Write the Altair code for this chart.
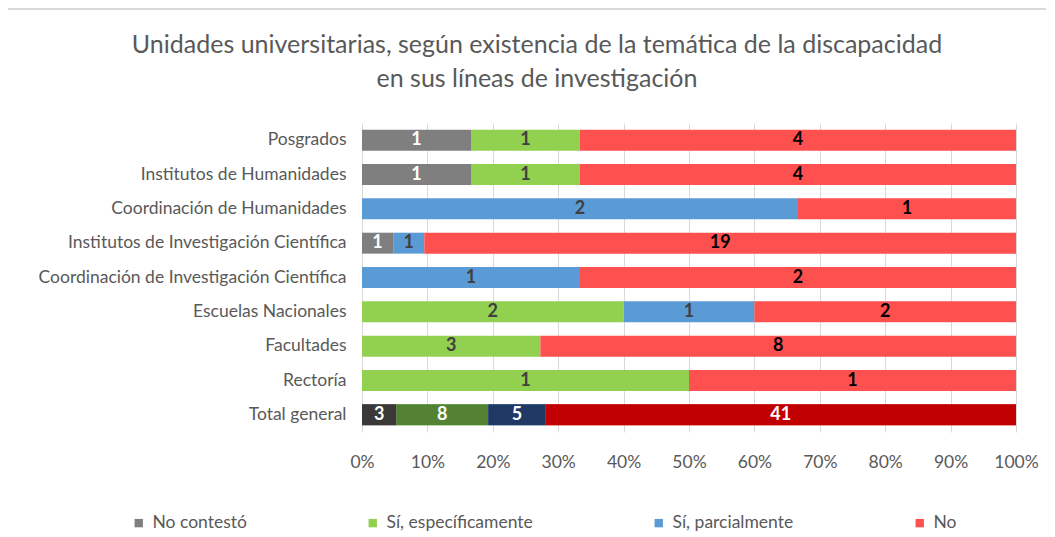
import altair as alt
import pandas as pd

categories = [
    "Posgrados",
    "Institutos de Humanidades",
    "Coordinación de Humanidades",
    "Institutos de Investigación Científica",
    "Coordinación de Investigación Científica",
    "Escuelas Nacionales",
    "Facultades",
    "Rectoría",
    "Total general",
]
series = ["No contestó", "Sí, específicamente", "Sí, parcialmente", "No"]

no_contesto = [1, 1, 0, 1, 0, 0, 0, 0, 3]
si_especificamente = [1, 1, 0, 0, 0, 2, 3, 1, 8]
si_parcialmente = [0, 0, 2, 1, 1, 1, 0, 0, 5]
no = [4, 4, 1, 19, 2, 2, 8, 1, 41]

colors = ["#7f7f7f", "#92d050", "#5b9bd5", "#ff5050"]
total_colors = ["#3b3838", "#548235", "#203864", "#c00000"]
text_colors = ["#ffffff", "#404040", "#404040", "#000000"]
total_text_colors = ["#ffffff", "#ffffff", "#ffffff", "#ffffff"]

values_by_series = [no_contesto, si_especificamente, si_parcialmente, no]
rows = []
for si, (s, vals) in enumerate(zip(series, values_by_series)):
    for ci, (c, v) in enumerate(zip(categories, vals)):
        if v == 0:
            continue
        is_total = c == "Total general"
        rows.append({
            "category": c,
            "series": s,
            "idx": si,
            "value": v,
            "fillc": total_colors[si] if is_total else colors[si],
            "tcolor": total_text_colors[si] if is_total else text_colors[si],
            "is_total": is_total,
        })
df = pd.DataFrame(rows)

FONT = "Lato"
GRAY = "#595959"
FS = 17.5

base = alt.Chart(df).transform_stack(
    stack="value",
    groupby=["category"],
    as_=["x0", "x1"],
    offset="normalize",
    sort=[alt.SortField("idx", order="ascending")],
).transform_calculate(mid="(datum.x0 + datum.x1) / 2")

y_enc = alt.Y(
    "category:N",
    sort=categories,
    scale=alt.Scale(paddingInner=0.39, paddingOuter=0.195),
    axis=alt.Axis(
        title=None, ticks=False, domain=False, grid=False,
        labelFont=FONT, labelFontSize=FS, labelColor=GRAY, labelPadding=16,
        labelLimit=400,
    ),
)
x_enc = alt.X(
    "x0:Q",
    scale=alt.Scale(domain=[0, 1], nice=False),
    axis=alt.Axis(
        title=None, format=".0%", values=[i / 10 for i in range(11)],
        ticks=False, domain=False, grid=True, gridColor="#d9d9d9",
        labelFont=FONT, labelFontSize=FS, labelColor=GRAY, labelPadding=21,
        labelFlush=False, labelOverlap=False,
    ),
)

bars = base.mark_bar().encode(
    y=y_enc,
    x=x_enc,
    x2="x1:Q",
    color=alt.Color(
        "series:N",
        scale=alt.Scale(domain=series, range=colors),
        legend=alt.Legend(
            title=None, orient="none", direction="horizontal",
            legendX=-232, legendY=391,
            symbolType="square", symbolSize=70, symbolStrokeWidth=0,
            labelFont=FONT, labelFontSize=FS, labelColor=GRAY,
            columnPadding=117, labelOffset=5,
        ),
    ),
)

total_bars = base.transform_filter("datum.is_total").mark_bar().encode(
    y=alt.Y("category:N", sort=categories),
    x="x0:Q",
    x2="x1:Q",
    fill=alt.Fill("fillc:N", scale=None),
)

labels = base.mark_text(font=FONT, fontSize=18, fontWeight="bold", baseline="middle").encode(
    y=alt.Y("category:N", sort=categories),
    x="mid:Q",
    text="value:Q",
    fill=alt.Fill("tcolor:N", scale=None),
)

frame_top = alt.Chart(pd.DataFrame({"a": [0]})).mark_rule(color="#d9d9d9", strokeWidth=2).encode(
    x=alt.value(-355), x2=alt.value(700), y=alt.value(-114)
)
frame_left = alt.Chart(pd.DataFrame({"a": [0]})).mark_rule(color="#d9d9d9", strokeWidth=2).encode(
    x=alt.value(-355), y=alt.value(-114), y2=alt.value(420)
)

chart = alt.layer(frame_top, frame_left, bars, total_bars, labels).resolve_scale(
    color="independent", fill="independent"
).properties(
    width=654,
    height=309,
    autosize=alt.AutoSizeParams(type="none"),
    padding={"left": 354, "top": 115, "right": 30, "bottom": 100},
    title=alt.TitleParams(
        text=[
            "Unidades universitarias, según existencia de la temática de la discapacidad",
            "en sus líneas de investigación",
        ],
        font=FONT, fontSize=25, fontWeight="normal", color=GRAY,
        anchor="middle", dx=-152, offset=-84, lineHeight=34,
    ),
).configure_view(stroke=None)

chart.save("out.html", embed_options={"renderer": "svg", "actions": False})
